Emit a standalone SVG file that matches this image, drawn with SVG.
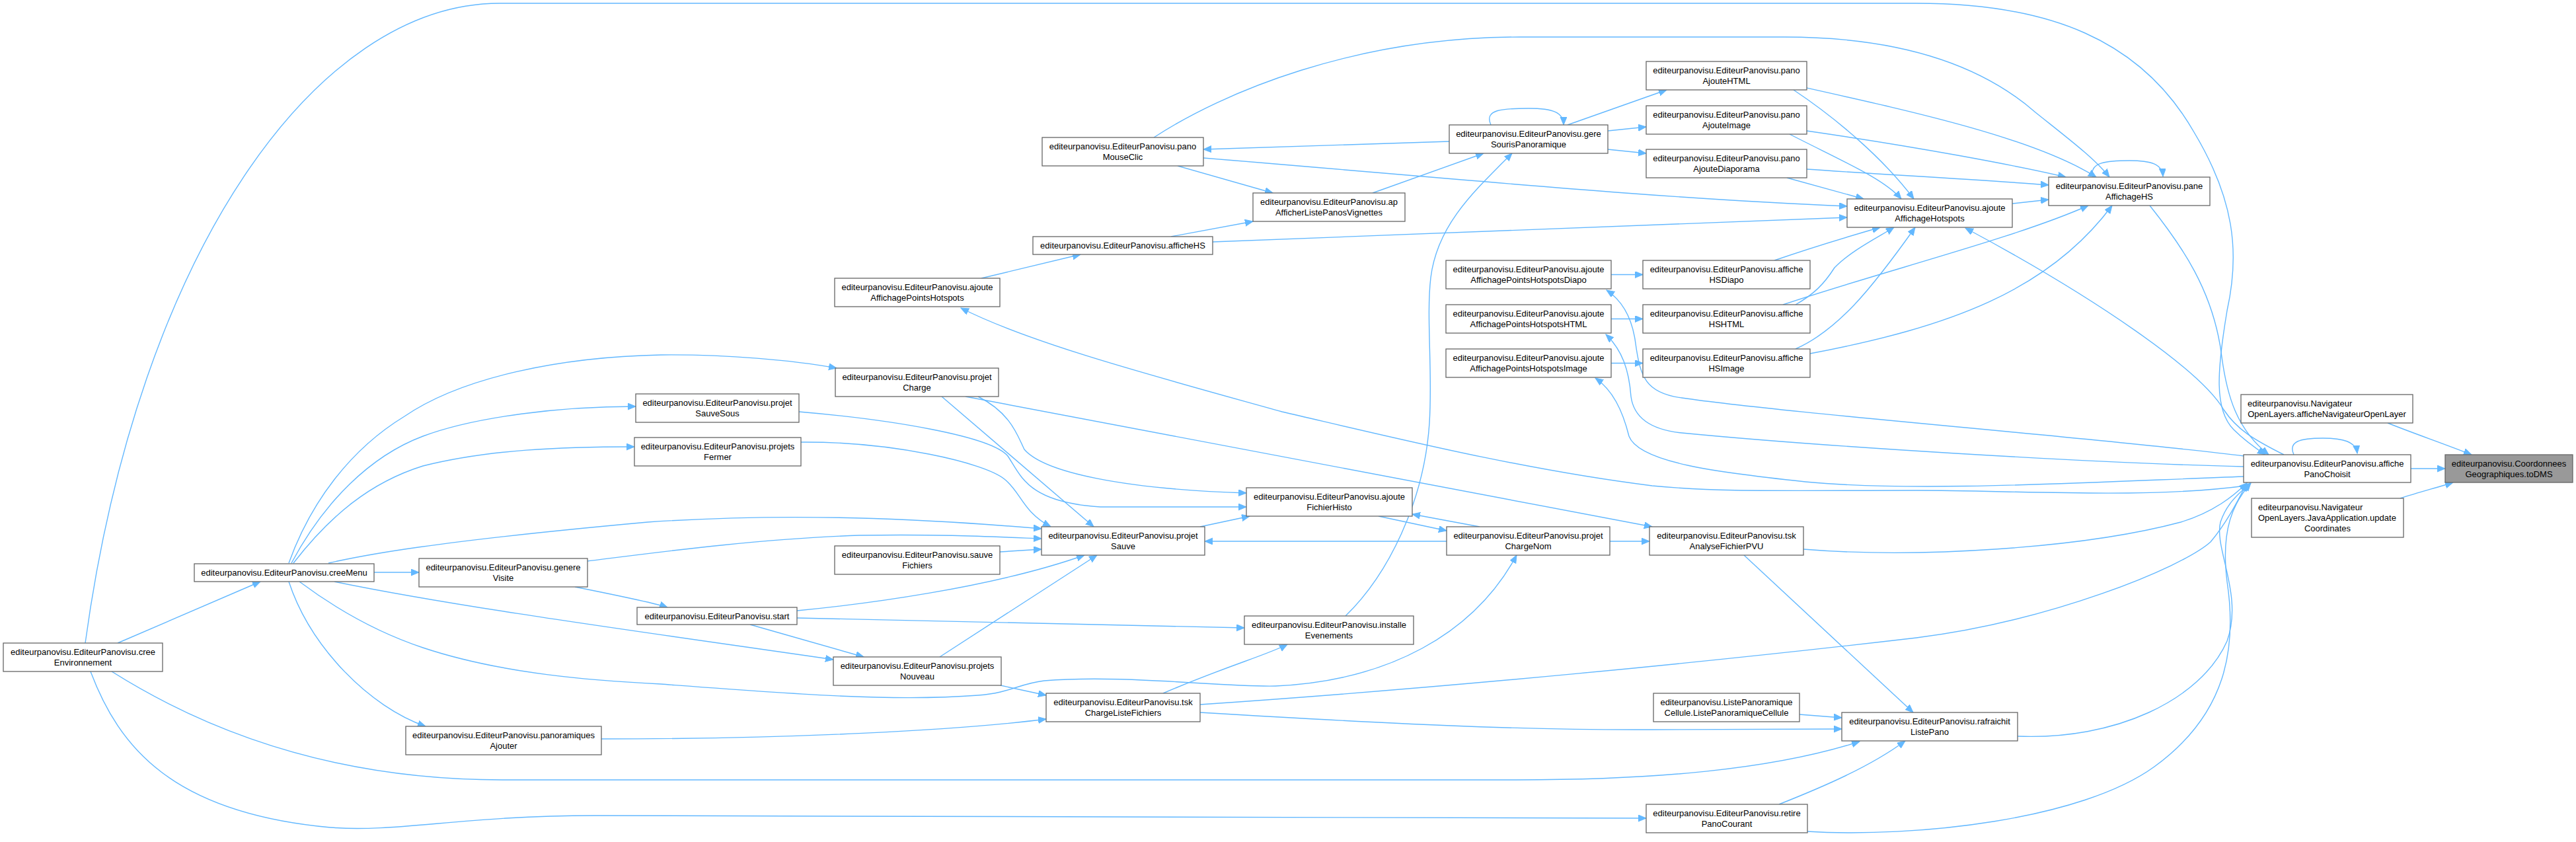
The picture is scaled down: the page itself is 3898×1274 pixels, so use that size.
<svg xmlns="http://www.w3.org/2000/svg" width="3898" height="1274" viewBox="0 0 3898 1274">
<style>
.node rect{fill:#fff;stroke:#666;stroke-width:1.3}
.node rect.root{fill:#999}
text{font-family:"Liberation Sans",Arial,sans-serif;font-size:13px;fill:#000;text-anchor:middle}
text.l{text-anchor:start}
#edges path{fill:none;stroke:#63b8ff;stroke-width:1.4;marker-end:url(#ah)}
</style>
<defs>
<marker id="ah" markerUnits="userSpaceOnUse" markerWidth="14" markerHeight="12" refX="12" refY="5" orient="auto">
<path d="M0,0 L12,5 L0,10 z" fill="#63b8ff" stroke="#63b8ff" stroke-width="1"/>
</marker>
</defs>
<rect width="3898" height="1274" fill="#fff"/>
<g id="edges">
<path d="M3648,709 L3700,709"/>
<path d="M3613,640 C3650,655 3700,672 3740,688"/>
<path d="M3632,754 C3660,745 3690,737 3712,730"/>
<path d="M3471,688 C3462,668 3480,663 3515,663 C3545,663 3565,668 3567,686"/>
<path d="M129,973 C210,380 480,5 756,5 L2900,5 C3100,5 3240,60 3320,200 C3380,300 3390,380 3370,470 C3355,560 3350,620 3380,650 C3395,665 3410,676 3428,688"/>
<path d="M3253,311 C3300,370 3350,440 3362,540 C3370,600 3385,650 3433,688"/>
<path d="M3456,688 C3410,665 3385,650 3365,620 C3330,560 3170,450 2974,345"/>
<path d="M3396,690 C3200,665 2700,625 2545,602 C2490,595 2482,570 2475,520 C2470,480 2455,455 2431,439"/>
<path d="M3396,706 C3150,700 2750,675 2545,655 C2495,650 2472,630 2468,600 C2465,560 2455,530 2430,506"/>
<path d="M3396,721 C3150,730 2900,745 2732,729 C2600,715 2480,700 2465,660 C2455,620 2440,590 2414,572"/>
<path d="M3398,735 C3250,755 3050,742 2900,742 C2700,742 2600,745 2500,735 C2300,710 2100,660 1940,623 C1750,570 1560,520 1454,466"/>
<path d="M2704,269 L2820,301"/>
<path d="M2708,203 C2790,245 2850,270 2877,301"/>
<path d="M2714,136 C2780,180 2850,240 2896,301"/>
<path d="M1821,239 C2200,270 2500,300 2795,312"/>
<path d="M1835,366 L2795,329"/>
<path d="M2685,394 C2740,375 2800,357 2845,344"/>
<path d="M2717,461 C2745,445 2760,430 2776,405 C2800,380 2840,360 2866,344"/>
<path d="M2717,528 C2780,500 2830,440 2898,344"/>
<path d="M3045,308 L3100,302"/>
<path d="M2734,256 C2850,264 3000,272 3100,280"/>
<path d="M2734,198 C2900,222 3050,250 3126,268"/>
<path d="M2734,133 C2900,170 3080,210 3172,268"/>
<path d="M1746,208 C1850,140 2050,56 2300,56 L2700,56 C2880,56 3000,100 3080,170 C3130,210 3170,240 3192,268"/>
<path d="M3167,268 C3160,245 3190,243 3222,243 C3255,243 3272,248 3273,267"/>
<path d="M2698,461 C2850,410 3050,360 3160,311"/>
<path d="M2739,535 C2950,495 3100,440 3196,311"/>
<path d="M2372,189 L2522,136"/>
<path d="M2433,198 L2491,192"/>
<path d="M2433,226 L2491,232"/>
<path d="M2193,214 L1821,226"/>
<path d="M2256,189 C2245,165 2275,164 2313,164 C2350,164 2366,170 2366,189"/>
<path d="M2077,292 L2245,232"/>
<path d="M2036,932 C2100,870 2155,760 2163,640 C2168,560 2158,480 2165,420 C2175,340 2230,290 2288,232"/>
<path d="M1782,251 L1926,292"/>
<path d="M1772,358 L1896,335"/>
<path d="M1485,421 L1635,385"/>
<path d="M2438,415.5 L2486,415.5"/>
<path d="M2438,482.5 L2486,482.5"/>
<path d="M2438,549.5 L2486,549.5"/>
<path d="M178,973 L394,880"/>
<path d="M169,1016 C350,1130 550,1180 760,1180 L2295,1180 C2500,1180 2680,1165 2814,1122"/>
<path d="M137,1016 C180,1130 260,1230 500,1252 C600,1260 700,1234 900,1234 L2491,1238"/>
<path d="M2723,1081 L2787,1086"/>
<path d="M2639,840 L2895,1078"/>
<path d="M2692,1217 C2760,1190 2830,1160 2883,1121"/>
<path d="M1816,1078 C2100,1095 2300,1105 2500,1104 L2787,1103"/>
<path d="M1816,1066 C2200,1040 2600,1000 2900,965 C3100,940 3300,860 3345,820 C3370,790 3385,760 3400,731"/>
<path d="M2729,831 C2900,845 3150,830 3300,790 C3350,775 3380,750 3400,731"/>
<path d="M3053,1114 C3200,1120 3330,1060 3370,970 C3395,900 3350,830 3360,790 C3370,760 3390,745 3405,731"/>
<path d="M2734,1258 C2900,1268 3150,1240 3260,1160 C3370,1080 3385,980 3370,880 C3360,800 3380,760 3406,731"/>
<path d="M2436,819 L2496,819"/>
<path d="M2239,797 L2137,778"/>
<path d="M2086,781 L2189,803"/>
<path d="M2189,819 L1823,819"/>
<path d="M1816,797 L1891,781"/>
<path d="M1422,994 L1660,840"/>
<path d="M1206,924 C1300,915 1500,890 1641,840"/>
<path d="M1135,945 L1307,994"/>
<path d="M1206,935 L1883,950"/>
<path d="M506,880 C700,920 1000,960 1261,998"/>
<path d="M1513,835 L1576,831"/>
<path d="M1209,623 C1350,635 1500,660 1525,690 C1545,720 1555,760 1665,767 L1886,767"/>
<path d="M1212,669 C1350,668 1490,700 1520,725 C1545,745 1548,775 1590,797"/>
<path d="M1425,600 L1655,797"/>
<path d="M1480,600 C1530,625 1540,660 1550,680 C1580,715 1700,740 1886,746"/>
<path d="M1461,600 L2500,797"/>
<path d="M437,852 C470,760 530,680 612,630 C700,570 850,540 1000,537 C1100,536 1200,545 1266,557"/>
<path d="M441,852 C490,760 560,690 640,660 C720,630 850,615 962,615"/>
<path d="M444,852 C500,780 560,730 640,705 C740,680 850,676 960,676"/>
<path d="M497,852 C550,840 650,820 980,790 C1200,775 1400,785 1576,800"/>
<path d="M566,866 L634,866"/>
<path d="M889,849 C1000,835 1150,815 1300,810 C1420,808 1500,812 1576,815"/>
<path d="M870,888 C930,900 990,912 1010,919"/>
<path d="M453,880 C520,930 580,960 640,980 C760,1020 900,1030 1000,1035 C1200,1050 1350,1062 1480,1052 C1530,1048 1540,1035 1580,1030 C1700,1020 1850,1040 1930,1038 C2100,1030 2230,960 2295,840"/>
<path d="M437,880 C470,980 560,1070 644,1099"/>
<path d="M910,1118 C1200,1118 1450,1105 1583,1088"/>
<path d="M1514,1037 L1583,1052"/>
<path d="M1760,1049 C1850,1010 1920,990 1948,975"/>
</g>
<g id="toDMS" class="node"><rect class="root" x="3700" y="688" width="193" height="42"/><text x="3796.5" y="706">editeurpanovisu.Coordonnees</text><text x="3796.5" y="721.5">Geographiques.toDMS</text></g>
<g id="affichePanoChoisit" class="node"><rect x="3395" y="688" width="253" height="42"/><text x="3521.5" y="706">editeurpanovisu.EditeurPanovisu.affiche</text><text x="3521.5" y="721.5">PanoChoisit</text></g>
<g id="afficheNavigateurOpenLayer" class="node"><rect x="3391" y="597" width="260" height="43"/><text class="l" x="3401" y="615">editeurpanovisu.Navigateur</text><text x="3521" y="630.5">OpenLayers.afficheNavigateurOpenLayer</text></g>
<g id="updateCoordinates" class="node"><rect x="3407" y="754" width="230" height="59"/><text class="l" x="3417" y="772">editeurpanovisu.Navigateur</text><text class="l" x="3417" y="788">OpenLayers.JavaApplication.update</text><text x="3522" y="803.5">Coordinates</text></g>
<g id="paneAffichageHS" class="node"><rect x="3100" y="268" width="244" height="43"/><text x="3222" y="286">editeurpanovisu.EditeurPanovisu.pane</text><text x="3222" y="301.5">AffichageHS</text></g>
<g id="ajouteAffichageHotspots" class="node"><rect x="2795" y="301" width="250" height="43"/><text x="2920" y="319">editeurpanovisu.EditeurPanovisu.ajoute</text><text x="2920" y="334.5">AffichageHotspots</text></g>
<g id="panoAjouteHTML" class="node"><rect x="2491" y="93" width="243" height="43"/><text x="2612.5" y="111">editeurpanovisu.EditeurPanovisu.pano</text><text x="2612.5" y="126.5">AjouteHTML</text></g>
<g id="panoAjouteImage" class="node"><rect x="2491" y="160" width="243" height="43"/><text x="2612.5" y="178">editeurpanovisu.EditeurPanovisu.pano</text><text x="2612.5" y="193.5">AjouteImage</text></g>
<g id="panoAjouteDiaporama" class="node"><rect x="2491" y="226" width="243" height="43"/><text x="2612.5" y="244">editeurpanovisu.EditeurPanovisu.pano</text><text x="2612.5" y="259.5">AjouteDiaporama</text></g>
<g id="gereSourisPanoramique" class="node"><rect x="2193" y="189" width="240" height="43"/><text x="2313" y="207">editeurpanovisu.EditeurPanovisu.gere</text><text x="2313" y="222.5">SourisPanoramique</text></g>
<g id="panoMouseClic" class="node"><rect x="1577" y="208" width="244" height="43"/><text x="1699" y="226">editeurpanovisu.EditeurPanovisu.pano</text><text x="1699" y="241.5">MouseClic</text></g>
<g id="apAfficherListePanosVignettes" class="node"><rect x="1896" y="292" width="230" height="43"/><text x="2011" y="310">editeurpanovisu.EditeurPanovisu.ap</text><text x="2011" y="325.5">AfficherListePanosVignettes</text></g>
<g id="afficheHS" class="node"><rect x="1563" y="358" width="272" height="27"/><text x="1699" y="376">editeurpanovisu.EditeurPanovisu.afficheHS</text></g>
<g id="ajouteAffichagePointsHotspots" class="node"><rect x="1263" y="421" width="250" height="43"/><text x="1388" y="439">editeurpanovisu.EditeurPanovisu.ajoute</text><text x="1388" y="454.5">AffichagePointsHotspots</text></g>
<g id="ajouteAffichagePointsHotspotsDiapo" class="node"><rect x="2188" y="394" width="250" height="43"/><text x="2313" y="412">editeurpanovisu.EditeurPanovisu.ajoute</text><text x="2313" y="427.5">AffichagePointsHotspotsDiapo</text></g>
<g id="afficheHSDiapo" class="node"><rect x="2486" y="394" width="253" height="43"/><text x="2612.5" y="412">editeurpanovisu.EditeurPanovisu.affiche</text><text x="2612.5" y="427.5">HSDiapo</text></g>
<g id="ajouteAffichagePointsHotspotsHTML" class="node"><rect x="2188" y="461" width="250" height="43"/><text x="2313" y="479">editeurpanovisu.EditeurPanovisu.ajoute</text><text x="2313" y="494.5">AffichagePointsHotspotsHTML</text></g>
<g id="afficheHSHTML" class="node"><rect x="2486" y="461" width="253" height="43"/><text x="2612.5" y="479">editeurpanovisu.EditeurPanovisu.affiche</text><text x="2612.5" y="494.5">HSHTML</text></g>
<g id="ajouteAffichagePointsHotspotsImage" class="node"><rect x="2188" y="528" width="250" height="43"/><text x="2313" y="546">editeurpanovisu.EditeurPanovisu.ajoute</text><text x="2313" y="561.5">AffichagePointsHotspotsImage</text></g>
<g id="afficheHSImage" class="node"><rect x="2486" y="528" width="253" height="43"/><text x="2612.5" y="546">editeurpanovisu.EditeurPanovisu.affiche</text><text x="2612.5" y="561.5">HSImage</text></g>
<g id="projetCharge" class="node"><rect x="1264" y="557" width="247" height="43"/><text x="1387.5" y="575">editeurpanovisu.EditeurPanovisu.projet</text><text x="1387.5" y="590.5">Charge</text></g>
<g id="projetSauveSous" class="node"><rect x="962" y="596" width="247" height="43"/><text x="1085.5" y="614">editeurpanovisu.EditeurPanovisu.projet</text><text x="1085.5" y="629.5">SauveSous</text></g>
<g id="projetsFermer" class="node"><rect x="960" y="662" width="252" height="43"/><text x="1086" y="680">editeurpanovisu.EditeurPanovisu.projets</text><text x="1086" y="695.5">Fermer</text></g>
<g id="ajouteFichierHisto" class="node"><rect x="1886" y="738" width="251" height="43"/><text x="2011.5" y="756">editeurpanovisu.EditeurPanovisu.ajoute</text><text x="2011.5" y="771.5">FichierHisto</text></g>
<g id="projetSauve" class="node"><rect x="1576" y="797" width="247" height="43"/><text x="1699.5" y="815">editeurpanovisu.EditeurPanovisu.projet</text><text x="1699.5" y="830.5">Sauve</text></g>
<g id="sauveFichiers" class="node"><rect x="1263" y="826" width="250" height="43"/><text x="1388" y="844">editeurpanovisu.EditeurPanovisu.sauve</text><text x="1388" y="859.5">Fichiers</text></g>
<g id="projetChargeNom" class="node"><rect x="2189" y="797" width="247" height="43"/><text x="2312.5" y="815">editeurpanovisu.EditeurPanovisu.projet</text><text x="2312.5" y="830.5">ChargeNom</text></g>
<g id="tskAnalyseFichierPVU" class="node"><rect x="2496" y="797" width="233" height="43"/><text x="2612.5" y="815">editeurpanovisu.EditeurPanovisu.tsk</text><text x="2612.5" y="830.5">AnalyseFichierPVU</text></g>
<g id="start" class="node"><rect x="964" y="919" width="242" height="26"/><text x="1085" y="936.5">editeurpanovisu.EditeurPanovisu.start</text></g>
<g id="installeEvenements" class="node"><rect x="1883" y="932" width="256" height="43"/><text x="2011" y="950">editeurpanovisu.EditeurPanovisu.installe</text><text x="2011" y="965.5">Evenements</text></g>
<g id="projetsNouveau" class="node"><rect x="1261" y="994" width="254" height="43"/><text x="1388" y="1012">editeurpanovisu.EditeurPanovisu.projets</text><text x="1388" y="1027.5">Nouveau</text></g>
<g id="tskChargeListeFichiers" class="node"><rect x="1583" y="1049" width="233" height="43"/><text x="1699.5" y="1067">editeurpanovisu.EditeurPanovisu.tsk</text><text x="1699.5" y="1082.5">ChargeListeFichiers</text></g>
<g id="ListePanoramiqueCellule" class="node"><rect x="2502" y="1049" width="221" height="43"/><text x="2612.5" y="1067">editeurpanovisu.ListePanoramique</text><text x="2612.5" y="1082.5">Cellule.ListePanoramiqueCellule</text></g>
<g id="rafraichitListePano" class="node"><rect x="2787" y="1078" width="266" height="43"/><text x="2920" y="1096">editeurpanovisu.EditeurPanovisu.rafraichit</text><text x="2920" y="1111.5">ListePano</text></g>
<g id="retirePanoCourant" class="node"><rect x="2491" y="1217" width="244" height="43"/><text x="2613" y="1235">editeurpanovisu.EditeurPanovisu.retire</text><text x="2613" y="1250.5">PanoCourant</text></g>
<g id="creeMenu" class="node"><rect x="294" y="853" width="272" height="27"/><text x="430" y="871">editeurpanovisu.EditeurPanovisu.creeMenu</text></g>
<g id="genereVisite" class="node"><rect x="634" y="845" width="255" height="43"/><text x="761.5" y="863">editeurpanovisu.EditeurPanovisu.genere</text><text x="761.5" y="878.5">Visite</text></g>
<g id="panoramiquesAjouter" class="node"><rect x="614" y="1099" width="296" height="43"/><text x="762" y="1117">editeurpanovisu.EditeurPanovisu.panoramiques</text><text x="762" y="1132.5">Ajouter</text></g>
<g id="creeEnvironnement" class="node"><rect x="5" y="973" width="241" height="43"/><text x="125.5" y="991">editeurpanovisu.EditeurPanovisu.cree</text><text x="125.5" y="1006.5">Environnement</text></g>
</svg>
